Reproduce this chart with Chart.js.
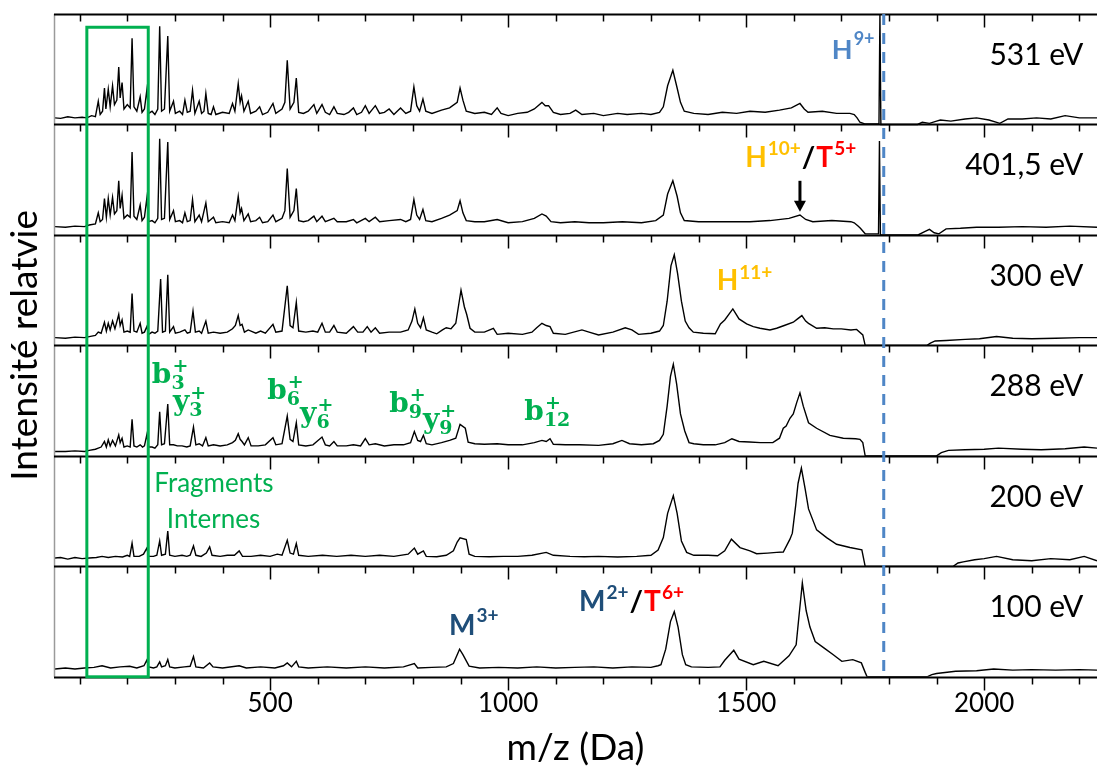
<!DOCTYPE html>
<html>
<head>
<meta charset="utf-8">
<script src="https://cdn.jsdelivr.net/npm/chart.js@4.4.0/dist/chart.umd.min.js"></script>
<style>
  html, body { margin: 0; padding: 0; background: #fff; }
  #wrap { width: 1097px; height: 767px; }
</style>
</head>
<body>
<div id="wrap"><canvas id="specChart"></canvas></div>
<script>
// panel names, top to bottom
const energies = ['531 eV', '401,5 eV', '300 eV', '288 eV', '200 eV', '100 eV'];
const mzMin = 46, mzMax = 2237;
const majorTicks = [500, 1000, 1500, 2000];
const majorStep = 500, minorStep = 100;

// [m/z, relative intensity (0-100 inside each panel)]
const s531 = [[48,6],[60,5.5],[75,7],[90,6],[105,6.5],[115,6],[125,8],[133,7],[139,21],[143,9],[148,12],[152,33],[155,14],[160,32],[164,16],[169,35],[173,18],[178,22],[182,52],[185,24],[189,38],[193,14],[200,18],[206,15],[210,78],[214,16],[220,12],[227,25],[231,11],[236,14],[241,31],[245,10],[252,12],[258,9],[264,14],[268,89],[272,12],[278,14],[285,80],[289,12],[297,21],[301,10],[310,12],[316,9],[321,22],[326,11],[332,12],[337,31],[342,10],[351,21],[356,10],[361,12],[365,28],[370,10],[376,9],[381,16],[386,9],[400,11],[414,10],[421,19],[426,12],[433,37],[437,20],[440,26],[445,12],[454,21],[459,10],[470,12],[478,16],[484,9],[495,11],[506,19],[512,10],[525,14],[531,20],[536,58],[542,14],[550,20],[555,42],[560,11],[570,10],[580,12],[592,18],[598,10],[609,18],[616,11],[625,9],[634,16],[641,10],[655,9],[665,11],[675,15],[682,9],[692,11],[700,17],[708,10],[721,17],[730,10],[740,11],[750,14],[760,9],[774,15],[785,10],[795,12],[802,34],[808,17],[814,12],[821,23],[827,12],[840,10],[860,13],[877,15],[893,20],[899,33],[905,22],[912,12],[930,10],[950,11],[965,9],[977,15],[985,10],[1000,8],[1020,10],[1040,11],[1055,14],[1071,20],[1078,17],[1085,17],[1095,11],[1110,9],[1130,10],[1142,13],[1155,9],[1180,10],[1200,8],[1230,10],[1250,9],[1280,10],[1300,9],[1318,11],[1326,16],[1335,35],[1346,49],[1355,33],[1362,20],[1370,12],[1390,10],[1420,9],[1450,11],[1480,10],[1508,12],[1540,11],[1570,13],[1595,15],[1613,19],[1622,14],[1630,11],[1660,12],[1690,10],[1718,10],[1727,9],[1733,6],[1739,2],[1749,0.5],[1779,0.5],[1781,100],[1783,0],[1860,0],[1870,2],[1885,1],[1900,3],[1908,4],[1930,3],[1960,5],[1984,6],[2010,4],[2033,1],[2050,5],[2080,5],[2110,6],[2140,5],[2170,8],[2200,6],[2237,6]];

const s401 = [[48,7.5],[70,7],[90,8],[110,7.5],[120,9],[133,10],[139,20],[143,12],[148,14],[152,33],[156,16],[160,33],[164,18],[169,34],[173,19],[178,22],[182,49],[185,24],[189,36],[193,15],[200,18],[206,16],[210,75],[214,17],[220,14],[227,27],[231,13],[236,16],[241,33],[245,12],[252,13],[258,11],[264,15],[268,87],[272,14],[278,15],[285,84],[289,14],[297,22],[301,12],[310,13],[316,11],[321,20],[326,12],[332,13],[337,32],[342,12],[351,18],[356,12],[365,29],[370,12],[381,16],[386,11],[400,12],[414,11],[421,18],[426,13],[433,35],[437,20],[440,24],[445,13],[454,19],[459,12],[470,13],[478,16],[484,11],[495,12],[506,18],[512,12],[525,15],[531,22],[536,60],[542,16],[550,22],[555,42],[560,13],[570,12],[580,13],[592,17],[598,12],[609,17],[616,12],[634,15],[641,12],[660,12],[675,14],[682,11],[700,15],[708,12],[721,16],[730,12],[750,13],[774,14],[785,12],[795,14],[802,32],[808,18],[814,14],[821,23],[827,13],[840,12],[860,15],[877,18],[893,22],[899,31],[905,20],[912,13],[930,12],[950,12],[977,14],[1000,11],[1030,12],[1055,15],[1071,19],[1080,17],[1090,12],[1110,11],[1140,12],[1170,11],[1200,11],[1240,12],[1280,11],[1310,13],[1326,18],[1335,37],[1346,49],[1355,35],[1362,20],[1370,13],[1400,12],[1440,12],[1480,12],[1508,12],[1550,13],[1590,15],[1613,18],[1625,14],[1640,12],[1680,13],[1720,12],[1727,11],[1735,8],[1740,6],[1750,1],[1778,1],[1780,85],[1782,0],[1861,0],[1875,3],[1885,5],[1895,2],[1905,1],[1920,5.5],[1950,6],[1984,7],[2030,7],[2080,7.5],[2130,7],[2180,8],[2237,7]];

const s300 = [[48,7],[70,6.5],[90,7.5],[110,7],[120,8],[133,9],[139,12],[145,11],[152,21],[156,13],[160,20],[164,14],[169,22],[174,15],[182,28],[185,18],[189,23],[193,12],[200,13],[206,12],[210,47],[214,13],[220,12],[227,20],[231,11],[236,12],[241,17],[245,10],[252,12],[258,11],[264,13],[270,60],[274,12],[280,13],[285,64],[289,12],[297,17],[301,11],[310,12],[321,14],[326,11],[332,12],[338,31],[343,12],[351,13],[356,11],[365,22],[370,11],[381,12],[395,11],[410,12],[421,15],[427,18],[433,27],[437,18],[441,19],[446,12],[454,14],[470,11],[480,13],[490,11],[506,19],[512,12],[525,13],[536,54],[542,18],[548,16],[555,39],[560,13],[575,12],[590,13],[600,12],[609,20],[616,12],[625,12],[634,18],[641,12],[660,11],[675,17],[684,12],[695,12],[704,17],[712,12],[721,16],[730,11],[750,12],[774,12],[790,14],[798,22],[804,33],[810,20],[816,16],[822,25],[828,14],[840,12],[850,10.5],[862,14],[870,16],[880,15],[890,20],[901,50],[908,35],[913,28],[920,15.5],[930,12],[950,12],[969,15.5],[977,10],[1000,11],[1030,10],[1050,12],[1060,16],[1071,20],[1080,18],[1088,17],[1095,11],[1120,10],[1155,14],[1170,12],[1190,9.5],[1220,12],[1246,16],[1260,14],[1274,10],[1300,11],[1318,13],[1326,18],[1334,40],[1342,72],[1349,82],[1356,65],[1364,40],[1372,22],[1380,16],[1389,12],[1410,11],[1435,10.5],[1446,19.5],[1455,23],[1472,33],[1485,24],[1501,19.5],[1515,17],[1529,15.5],[1550,14],[1564,15.5],[1580,18],[1599,21],[1608,24],[1617,27],[1625,22],[1631,20],[1648,15.5],[1665,16],[1683,15],[1700,15],[1720,14],[1732,14.5],[1745,9.5],[1750,0],[1880,0],[1887,2],[1897,4],[1920,4.5],[1960,5.5],[1990,6],[2026,8],[2060,6.5],[2100,6],[2150,6.5],[2200,7],[2237,7]];

const s288 = [[48,4],[70,4],[90,4.5],[110,4],[120,5],[133,6],[139,7],[145,8],[152,13],[156,8],[160,14.5],[164,9],[169,14],[175,9],[182,19],[185,12],[189,16],[193,8],[200,9],[206,8],[210,33],[214,9],[220,8],[227,10],[232,8],[236,9],[241,19],[245,8],[252,8],[258,7],[264,10],[268,40],[272,10],[278,11],[285,47],[289,10],[297,10],[305,9],[315,9],[325,8],[332,9],[339,26],[344,10],[351,11],[358,9],[365,16.5],[370,9],[381,10],[395,9],[410,10],[421,12],[427,14],[433,20],[437,15],[441,13],[446,10],[454,16.5],[460,9],[475,9],[490,10],[506,16.5],[512,10],[525,11],[536,36],[542,15],[548,13],[555,30],[560,10],[575,9],[590,10],[609,17],[616,10],[625,9],[634,13],[641,9],[660,9],[675,10],[690,9],[700,15.7],[708,10],[721,11],[740,9],[760,10],[780,10],[795,12],[803,22],[810,14],[816,13],[822,18.6],[828,11],[840,10],[860,12],[877,14],[890,16],[899,28.5],[910,25],[916,12.5],[930,11],[950,10.5],[977,11],[1000,10],[1030,10],[1055,12],[1071,14],[1080,13],[1088,15.5],[1095,10.5],[1120,10],[1150,10],[1190,9.5],[1220,11],[1239,14],[1255,11],[1280,10],[1305,11],[1318,14],[1326,19.5],[1334,45],[1341,72],[1347,83],[1354,65],[1362,38],[1371,22.5],[1380,12],[1390,11],[1410,10],[1435,10],[1455,12],[1470,15.5],[1485,13],[1507,12.5],[1530,12],[1556,12],[1570,16],[1578,25],[1584,27],[1592,34],[1599,38],[1606,48],[1613,57],[1620,45],[1631,30],[1648,25],[1676,18.6],[1704,16],[1730,15.5],[1739,15],[1745,12],[1750,0],[1900,0],[1910,3],[1925,5],[1960,5.5],[2000,6],[2030,7],[2080,6],[2120,5.5],[2170,6.5],[2210,8],[2237,7]];

const s200 = [[48,7.5],[60,8],[75,6.5],[90,8],[105,7],[120,7.5],[135,8],[147,9],[160,8],[175,9],[190,8.5],[200,10],[205,9],[210,21],[214,9],[225,9],[234,11],[241,16.5],[245,9],[255,9],[262,10],[268,23],[272,10],[280,11],[285,32],[289,10],[300,9],[315,10],[325,9],[332,10],[339,18.5],[344,10],[355,9],[366,12],[373,17.6],[378,10],[395,9],[410,10],[425,10],[435,14],[442,9],[460,9],[480,10],[500,9],[515,11],[525,10],[536,23.6],[542,12],[549,11],[555,20.6],[560,10],[580,9],[610,10],[640,9],[670,10],[700,9],[730,10],[760,9],[790,11],[803,16.5],[810,11],[822,14],[828,9],[850,8.7],[870,10],[885,14],[893,22],[899,25.8],[912,24.3],[918,11],[930,9],[960,8.7],[990,9],[1020,9],[1050,10],[1080,12.6],[1095,10],[1130,9],[1160,8.7],[1190,9],[1230,8.5],[1270,9],[1300,10],[1315,14.7],[1326,26],[1335,48],[1347,64],[1355,48],[1364,23],[1375,12.6],[1390,10],[1420,10],[1440,9.6],[1455,14],[1469,24.6],[1487,17],[1508,14],[1522,11.4],[1545,12],[1564,12.6],[1578,13],[1592,24.6],[1597,30],[1604,55],[1609,75],[1616,89],[1624,70],[1631,52],[1648,33],[1669,26],[1690,20],[1718,17],[1743,15],[1750,0],[1935,0],[1945,3],[1956,4],[1980,6],[2000,7],[2026,9],[2060,6],[2100,5],[2140,7],[2180,6],[2210,9],[2237,5]];

const s100 = [[48,7],[70,8],[90,7],[110,8],[130,8.5],[147,10],[165,8],[185,9],[205,9.5],[220,8],[235,10],[241,15],[245,9],[255,8],[262,9],[268,13.5],[272,9],[280,10],[285,15.6],[289,9],[300,8],[320,9],[332,9.5],[339,18.4],[344,9],[360,8],[373,12.5],[380,9],[400,8],[435,10],[450,8],[480,9],[510,8],[528,10],[536,12.6],[545,9],[555,14],[560,9],[580,8],[620,9],[660,8],[700,9],[740,8],[780,9],[803,12],[810,8],[840,8.5],[870,9],[885,12],[898,25],[905,20],[918,9.6],[940,8],[980,8.5],[1020,8],[1060,9],[1100,8],[1140,8.5],[1180,9],[1220,8],[1260,9],[1300,8.5],[1315,10],[1321,11],[1331,25],[1341,50],[1349,59],[1357,45],[1366,20],[1373,11],[1385,9],[1420,8.5],[1445,9],[1455,15],[1474,24],[1485,16],[1515,11],[1537,14],[1567,10],[1590,19],[1605,29],[1611,55],[1618,85],[1626,60],[1634,45],[1645,32],[1664,26],[1683,20],[1701,14],[1724,15.5],[1742,12.6],[1750,4],[1754,0],[1880,0],[1890,2],[1900,3],[1940,5],[1984,5.5],[2020,7],[2060,6],[2100,6.5],[2150,6],[2200,6.5],[2237,6]];

const spectra = [s531, s401, s300, s288, s200, s100];

// marked regions
const internalBox = { from: 115, to: 244, top: 88 };   // top in top-panel units
const cutoffMz = 1789;

const GREEN = '#00b050', ORANGE = '#ffc000', RED = '#ff0000', LBLUE = '#4f86c6', DBLUE = '#1f4e79';

// ion labels: anchor [m/z, global y], parts [text, colour, size, dy]
const ionLabels = [
  { at: [1680, 559], parts: [['H', LBLUE, 27, 0], ['9+', LBLUE, 18, -14]] },
  { at: [1498, 461.5], parts: [['H', ORANGE, 28, 0], ['10+', ORANGE, 19, -12], ['/', '#000', 29, 0], ['T', RED, 28, 0], ['5+', RED, 19, -12]] },
  { at: [1438, 350], parts: [['H', ORANGE, 28, 0], ['11+', ORANGE, 19, -11]] },
  { at: [876, 38], parts: [['M', DBLUE, 28, 0], ['3+', DBLUE, 19, -13]] },
  { at: [1149, 60], parts: [['M', DBLUE, 28, 0], ['2+', DBLUE, 19, -12], ['/', '#000', 29, 0], ['T', RED, 28, 0], ['6+', RED, 19, -12]] }
];
// fragment labels: base letter, subscript, anchor m/z, anchor y
const fragLabels = [
  ['b', '3', 251.5, 266], ['y', '3', 296, 241.5], ['b', '6', 494, 251.5], ['y', '6', 563, 231],
  ['b', '9', 750, 240], ['y', '9', 821, 225], ['b', '12', 1034, 232.5]
];
const arrowAt = { mz: 1613, from: 449, to: 421 };

function drawParts(ctx, x, y, parts) {
  let cx = x;
  parts.forEach(p => {
    ctx.font = 'bold ' + p[2] + 'px Lato';
    ctx.fillStyle = p[1];
    ctx.fillText(p[0], cx, y + p[3]);
    cx += ctx.measureText(p[0]).width + 1;
  });
}

const framePlugin = {
  id: 'frame',
  afterDatasetsDraw(chart) {
    const { ctx, chartArea: a, scales: { x, y } } = chart;
    ctx.save();
    // left axis
    ctx.strokeStyle = '#9a9a9a';
    ctx.lineWidth = 1.5;
    ctx.beginPath();
    ctx.moveTo(a.left + 0.5, a.top);
    ctx.lineTo(a.left + 0.5, a.bottom);
    ctx.stroke();
    // panel lines + ticks pointing down
    ctx.strokeStyle = '#000';
    for (let k = 0; k <= energies.length; k++) {
      const yy = Math.round(y.getPixelForValue(k * 100)) + 0.5;
      ctx.lineWidth = 2;
      ctx.beginPath();
      ctx.moveTo(a.left, yy);
      ctx.lineTo(a.right, yy);
      ctx.stroke();
      ctx.lineWidth = 1.5;
      for (let v = minorStep; v < mzMax; v += minorStep) {
        const xx = Math.round(x.getPixelForValue(v)) + 0.5;
        const len = v % majorStep === 0 ? 13 : 7;
        ctx.beginPath();
        ctx.moveTo(xx, yy);
        ctx.lineTo(xx, yy + len);
        ctx.stroke();
      }
    }
    // cutoff dashed line
    ctx.strokeStyle = LBLUE;
    ctx.lineWidth = 3;
    ctx.setLineDash([11, 8]);
    const cx = x.getPixelForValue(cutoffMz);
    ctx.beginPath();
    ctx.moveTo(cx, a.top);
    ctx.lineTo(cx, a.bottom);
    ctx.stroke();
    ctx.setLineDash([]);
    // internal fragments box
    ctx.strokeStyle = GREEN;
    ctx.lineWidth = 3;
    const bx1 = x.getPixelForValue(internalBox.from), bx2 = x.getPixelForValue(internalBox.to);
    const by1 = y.getPixelForValue(500 + internalBox.top), by2 = y.getPixelForValue(0);
    ctx.strokeRect(bx1, by1, bx2 - bx1, by2 - by1);

    // energy labels
    ctx.textBaseline = 'alphabetic';
    ctx.fillStyle = '#000';
    ctx.font = '30px Lato';
    ctx.textAlign = 'right';
    energies.forEach((e, k) => {
      ctx.fillText(e, x.getPixelForValue(2208), y.getPixelForValue((6 - k) * 100 - 46));
    });
    ctx.textAlign = 'left';
    // ion labels
    ionLabels.forEach(l => drawParts(ctx, x.getPixelForValue(l.at[0]), y.getPixelForValue(l.at[1]), l.parts));
    // arrow
    const ax = x.getPixelForValue(arrowAt.mz), ay1 = y.getPixelForValue(arrowAt.from), ay2 = y.getPixelForValue(arrowAt.to);
    ctx.strokeStyle = '#000';
    ctx.fillStyle = '#000';
    ctx.lineWidth = 3;
    ctx.beginPath();
    ctx.moveTo(ax, ay1);
    ctx.lineTo(ax, ay2 - 9);
    ctx.stroke();
    ctx.beginPath();
    ctx.moveTo(ax - 6, ay2 - 11);
    ctx.lineTo(ax + 6, ay2 - 11);
    ctx.lineTo(ax, ay2);
    ctx.closePath();
    ctx.fill();
    // fragment labels
    ctx.fillStyle = GREEN;
    fragLabels.forEach(f => {
      const fx = x.getPixelForValue(f[2]), fy = y.getPixelForValue(f[3]);
      ctx.font = 'bold 28px "DejaVu Serif"';
      ctx.fillText(f[0], fx, fy);
      const w = ctx.measureText(f[0]).width;
      ctx.font = 'bold 19px "DejaVu Serif"';
      ctx.fillText(f[1], fx + w, fy + 6);
      ctx.fillText('+', fx + w + 1, fy - 11);
    });
    ctx.font = '26px Lato';
    ctx.textAlign = 'center';
    ctx.fillText('Fragments', x.getPixelForValue(382), y.getPixelForValue(167.5));
    ctx.fillText('Internes', x.getPixelForValue(381), y.getPixelForValue(135));
    ctx.restore();
  }
};

const datasets = spectra.map((s, k) => ({
  label: energies[k],
  data: s.map(p => ({ x: p[0], y: p[1] + (energies.length - 1 - k) * 100 })),
  borderColor: '#000',
  borderWidth: 1.4,
  pointRadius: 0,
  fill: false,
  tension: 0
}));

const ctx = document.getElementById('specChart').getContext('2d');
new Chart(ctx, {
  type: 'line',
  data: { datasets: datasets },
  options: {
    responsive: true,
    maintainAspectRatio: false,
    animation: false,
    devicePixelRatio: 1,
    layout: { padding: { top: 14, right: 0, left: 7, bottom: 0 } },
    plugins: { legend: { display: false }, tooltip: { enabled: false } },
    scales: {
      x: {
        type: 'linear',
        min: mzMin,
        max: mzMax,
        afterBuildTicks: scale => { scale.ticks = majorTicks.map(v => ({ value: v })); },
        grid: { display: false, drawTicks: false },
        border: { display: false },
        ticks: {
          autoSkip: false,
          maxRotation: 0,
          padding: 11,
          color: '#000',
          font: { family: 'Lato', size: 26 },
          callback: v => String(v)
        },
        title: {
          display: true,
          text: 'm/z (Da)',
          color: '#000',
          font: { family: 'Lato', size: 37, lineHeight: 1 },
          padding: { top: 0, bottom: 0 }
        }
      },
      y: {
        min: 0,
        max: 600,
        grid: { display: false, drawTicks: false },
        border: { display: false },
        ticks: { display: false },
        title: {
          display: true,
          text: 'Intensité relatvie',
          color: '#000',
          font: { family: 'Lato', size: 37, lineHeight: 1 },
          padding: { top: 0, bottom: 10 }
        }
      }
    }
  },
  plugins: [framePlugin]
});
</script>
</body>
</html>
